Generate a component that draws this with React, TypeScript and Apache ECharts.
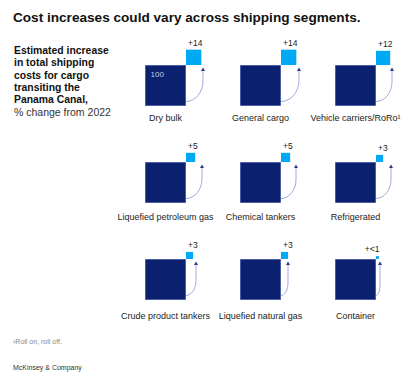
import React, { useEffect, useRef } from "react";
import * as echarts from "echarts";

const CATEGORIES = [
  "Dry bulk",
  "General cargo",
  "Vehicle carriers/RoRo¹",
  "Liquefied petroleum gas",
  "Chemical tankers",
  "Refrigerated",
  "Crude product tankers",
  "Liquefied natural gas",
  "Container",
];
const INCREASES = [14, 14, 12, 5, 5, 3, 3, 3, 0.5];
const VALUE_LABELS = ["+14", "+14", "+12", "+5", "+5", "+3", "+3", "+3", "+<1"];
const BASELINE = 100;
const BASELINE_LABEL = "100";

const TITLE = "Cost increases could vary across shipping segments.";
const SUBTITLE_BOLD = ["Estimated increase", "in total shipping", "costs for cargo", "transiting the", "Panama Canal,"];
const SUBTITLE_UNIT = "% change from 2022";
const FOOTNOTE = "¹Roll on, roll off.";
const SOURCE = "McKinsey & Company";

// style: horizontal reach of each curved arrow (px)
const ARROW_REACH = [17, 18, 16, 16, 15, 15, 10, 7, 4];

const FONT = '"Liberation Sans", Arial, sans-serif';
const NAVY = "#0b206e";
const CYAN = "#00a9f4";

export default function App() {
  const ref = useRef<HTMLDivElement>(null);
  useEffect(() => {
    if (!ref.current) return;
    const chart = echarts.init(ref.current, undefined, { renderer: "svg" });
    const data = CATEGORIES.map((c, i) => [i % 3, Math.floor(i / 3), INCREASES[i], i]);

    const graphics: any[] = [
      {
        type: "text",
        style: { text: TITLE, x: 13, y: 17, font: `bold 13.6px ${FONT}`, fill: "#111", textAlign: "left", textVerticalAlign: "middle" },
      },
      ...SUBTITLE_BOLD.map((t, i) => ({
        type: "text",
        style: { text: t, x: 14, y: 50.7 + i * 12.25, font: `bold 10.4px ${FONT}`, fill: "#111", textAlign: "left", textVerticalAlign: "middle" },
      })),
      {
        type: "text",
        style: { text: SUBTITLE_UNIT, x: 14, y: 50.7 + 5 * 12.25, font: `10.5px ${FONT}`, fill: "#333", textAlign: "left", textVerticalAlign: "middle" },
      },
      {
        type: "text",
        style: { text: FOOTNOTE, x: 13, y: 341.7, font: `7px ${FONT}`, fill: "#888", textAlign: "left", textVerticalAlign: "middle" },
      },
      {
        type: "text",
        style: { text: SOURCE, x: 13, y: 367.7, font: `7px ${FONT}`, fill: "#333", textAlign: "left", textVerticalAlign: "middle" },
      },
    ];

    chart.setOption({
      animation: false,
      grid: { left: 145, top: 65, width: 190, height: 194 },
      xAxis: { type: "value", min: 0, max: 2, show: false },
      yAxis: { type: "value", min: 0, max: 2, inverse: true, show: false },
      graphic: graphics,
      series: [
        {
          type: "custom",
          clip: false,
          data,
          renderItem: (params: any, api: any) => {
            const col = api.value(0);
            const row = api.value(1);
            const v = api.value(2);
            const idx = api.value(3);
            const [x0, y0] = api.coord([col, row]);
            const unit = api.size([1, 0])[0];
            const S = unit * 0.4316;
            const s = S * Math.sqrt(v / BASELINE);
            const right = x0 + S;
            const w = ARROW_REACH[idx];
            const ax = right + w;
            const sy = y0 + S - 4.5;
            const h = 7 + w * 0.8;
            const topY = y0 + 5;
            const children: any[] = [
              {
                type: "rect",
                shape: { x: x0 + 0.5, y: y0 + 0.5, width: S - 1, height: S - 1 },
                style: { fill: NAVY, stroke: "#4d5ca6", lineWidth: 1 },
              },
              {
                type: "rect",
                shape: { x: right, y: y0 - s, width: s, height: s },
                style: { fill: CYAN },
              },
              {
                type: "path",
                shape: {
                  pathData: `M ${right} ${sy} C ${right + w * 0.55} ${sy} ${ax} ${sy - h * 0.45} ${ax} ${sy - h} L ${ax} ${topY}`,
                },
                style: { fill: "none", stroke: "#a3aad8", lineWidth: 1 },
              },
              {
                type: "polygon",
                shape: { points: [[ax - 2, topY + 1], [ax + 2, topY + 1], [ax, y0 + 2.5]] },
                style: { fill: "#2b3b8c" },
              },
              {
                type: "text",
                style: {
                  text: VALUE_LABELS[idx],
                  x: v < 1 ? right + s + 0.5 : right + 2,
                  y: y0 - s - 7,
                  font: `8.5px ${FONT}`,
                  fill: "#222",
                  textAlign: v < 1 ? "right" : "left",
                  textVerticalAlign: "middle",
                },
              },
              {
                type: "text",
                style: {
                  text: CATEGORIES[idx],
                  x: x0 + S / 2,
                  y: y0 + S + 12 + 2.2 * row,
                  font: `9px ${FONT}`,
                  fill: "#222",
                  textAlign: "center",
                  textVerticalAlign: "middle",
                },
              },
            ];
            if (idx === 0) {
              children.push({
                type: "text",
                style: {
                  text: BASELINE_LABEL,
                  x: x0 + 5.5,
                  y: y0 + 9.5,
                  font: `8px ${FONT}`,
                  fill: "#c5cbe8",
                  textAlign: "left",
                  textVerticalAlign: "middle",
                },
              });
            }
            return { type: "group", children };
          },
        },
      ],
    });
    return () => chart.dispose();
  }, []);
  return <div ref={ref} style={{ width: 416, height: 381, position: "absolute", left: 0, top: 0, background: "#fff" }} />;
}
